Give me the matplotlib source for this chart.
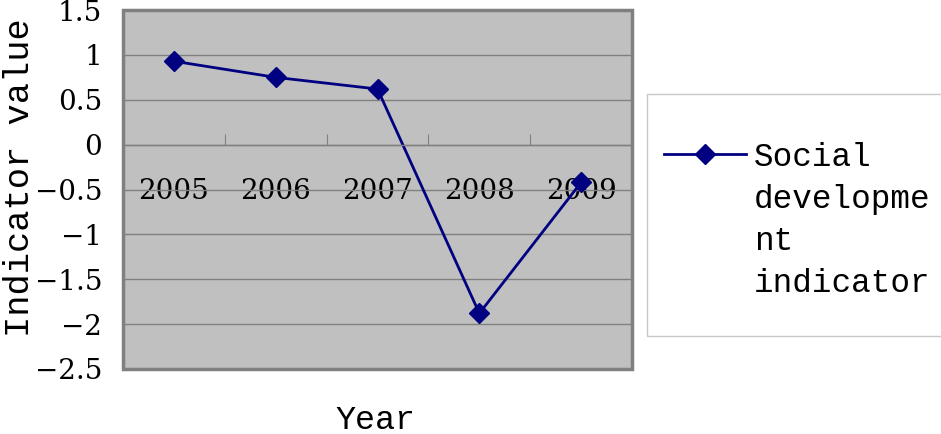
import numpy as np
import matplotlib.pyplot as plt
from matplotlib.patches import Rectangle
from matplotlib.ticker import NullFormatter

# values
years = ['2005', '2006', '2007', '2008', '2009']
values = [0.93, 0.75, 0.62, -1.88, -0.42]
yticks = [1.5, 1, 0.5, 0, -0.5, -1, -1.5, -2, -2.5]
ytick_labels = ['1.5', '1', '0.5', '0', '−0.5', '−1', '−1.5', '−2', '−2.5']

GRAY = '#808080'
NAVY = '#000080'
SERIF = 'DejaVu Serif'
MONO = 'Liberation Mono'

fig = plt.figure(figsize=(9.41, 4.34), dpi=100)
ax = fig.add_axes([0.1307, 0.1498, 0.541, 0.827])
ax.set_facecolor('#C0C0C0')
ax.patch.set_edgecolor(GRAY)
ax.patch.set_linewidth(2.5)

x = np.arange(len(years))
ax.plot(x, values, color=NAVY, lw=2, marker='D', ms=10.5, mew=1,
        label='Social\ndevelopme\nnt\nindicator')

ax.set_xlim(-0.5, len(years) - 0.5)
ax.set_ylim(-2.5, 1.5)
ax.set_yticks(yticks, ytick_labels, fontfamily=SERIF, fontsize=20)
ax.tick_params(axis='y', length=0, pad=15)
ax.grid(axis='y', color=GRAY, lw=1)
ax.set_axisbelow(True)

# category axis crosses at zero, ticks between categories
for side in ['left', 'right', 'top']:
    ax.spines[side].set_visible(False)
ax.spines['bottom'].set_position(('data', 0))
ax.spines['bottom'].set_color(GRAY)
ax.spines['bottom'].set_linewidth(1)
ax.set_xticks(x[:-1] + 0.5)
ax.xaxis.set_major_formatter(NullFormatter())
ax.set_xticks(x, years, minor=True, fontfamily=SERIF, fontsize=20)
ax.tick_params(axis='x', which='major', direction='in', length=8, color=GRAY)
ax.tick_params(axis='x', which='minor', length=0, pad=24)

fig.text(0.021, 0.59, 'Indicator value', rotation=90, ha='center', va='center',
         fontfamily=MONO, fontsize=25.5)
fig.text(0.399, 0.032, 'Year', ha='center', va='center',
         fontfamily=MONO, fontsize=24)

# legend box runs off the right edge
fig.add_artist(Rectangle((647 / 941, 1 - 336 / 434), 0.4, 242 / 434,
                         transform=fig.transFigure, fill=False,
                         ec='#C8C8C8', lw=1))
leg = fig.legend(loc='upper left', bbox_to_anchor=(0.7056, 0.672),
                 frameon=False, borderpad=0, borderaxespad=0,
                 handlelength=2.5, handletextpad=0.25,
                 prop={'family': MONO, 'size': 23.5})
leg.get_texts()[0].set_linespacing(1.45)
for item in leg._legend_handle_box.get_children()[0].get_children():
    item.align = 'top'

fig.savefig('out.png', dpi=100)
